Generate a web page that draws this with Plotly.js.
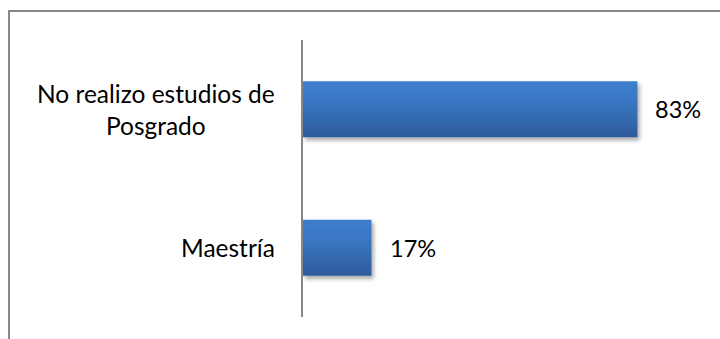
<!DOCTYPE html>
<html>
<head>
<meta charset="utf-8">
<script src="https://cdn.plot.ly/plotly-3.0.1.min.js"></script>
<style>
  html, body { margin: 0; padding: 0; background: #fff; }
  #wrap { position: relative; width: 720px; height: 339px; overflow: hidden; }
  #chart { position: absolute; left: 0; top: 0; width: 720px; height: 339px; }
  #frame { position: absolute; left: 8px; top: 10px; width: 800px; height: 400px;
           border-top: 2px solid #878787; border-left: 2px solid #878787; pointer-events: none; }
</style>
</head>
<body>
<div id="wrap">
  <div id="chart"></div>
  <div id="frame"></div>
</div>
<script>
// Data
const categories = ["No realizo estudios de Posgrado", "Maestría"];
const categoryLabels = ["No realizo estudios de<br>Posgrado", "Maestría"];
const values = [83, 17];
const valueLabels = ["83%", "17%"];

const FONT = "Lato, 'Noto Sans', sans-serif";
const FS_CAT = 24.5;
const FS_VAL = 23.5;

const trace = {
  type: "bar",
  orientation: "h",
  x: values,
  y: categories,
  marker: { color: "#3770bd", line: { width: 0 } },
  hoverinfo: "none"
};

const annotations = [];
categories.forEach((c, i) => {
  annotations.push({
    xref: "paper", yref: "y", x: 0, y: c,
    xanchor: "right", yanchor: "middle", xshift: -26,
    text: categoryLabels[i], showarrow: false, align: "center",
    font: { family: FONT, size: FS_CAT, color: "#000" }
  });
  annotations.push({
    xref: "x", yref: "y", x: values[i], y: c,
    xanchor: "left", yanchor: "middle", xshift: 16,
    text: valueLabels[i], showarrow: false,
    font: { family: FONT, size: FS_VAL, color: "#000" }
  });
});

const layout = {
  width: 720, height: 339,
  margin: { l: 303, r: 14, t: 40, b: 22, pad: 0 },
  paper_bgcolor: "#fff", plot_bgcolor: "#fff",
  showlegend: false,
  bargap: 0.596,
  xaxis: { range: [0, 100], visible: false, fixedrange: true },
  yaxis: {
    autorange: "reversed", showticklabels: false, showgrid: false, zeroline: false,
    showline: true, linecolor: "#878787", linewidth: 2, ticks: "", fixedrange: true
  },
  annotations: annotations,
  font: { family: FONT }
};

Plotly.newPlot("chart", [trace], layout, { displayModeBar: false, staticPlot: true }).then(gd => {
  const svg = gd.querySelector("svg.main-svg");
  const ns = "http://www.w3.org/2000/svg";
  let defs = svg.querySelector("defs");
  if (!defs) { defs = document.createElementNS(ns, "defs"); svg.insertBefore(defs, svg.firstChild); }
  const grad = document.createElementNS(ns, "linearGradient");
  grad.setAttribute("id", "barGrad");
  grad.setAttribute("x1", "0"); grad.setAttribute("y1", "0");
  grad.setAttribute("x2", "0"); grad.setAttribute("y2", "1");
  [["0", "#3d7dcb"], ["0.35", "#3a77c4"], ["1", "#2d5b9b"]].forEach(([o, c]) => {
    const s = document.createElementNS(ns, "stop");
    s.setAttribute("offset", o); s.setAttribute("stop-color", c);
    grad.appendChild(s);
  });
  defs.appendChild(grad);
  const filt = document.createElementNS(ns, "filter");
  filt.setAttribute("id", "barShadow");
  filt.setAttribute("x", "-10%"); filt.setAttribute("y", "-20%");
  filt.setAttribute("width", "130%"); filt.setAttribute("height", "160%");
  const ds = document.createElementNS(ns, "feDropShadow");
  ds.setAttribute("dx", "2"); ds.setAttribute("dy", "3");
  ds.setAttribute("stdDeviation", "2.2");
  ds.setAttribute("flood-color", "#000"); ds.setAttribute("flood-opacity", "0.35");
  filt.appendChild(ds);
  defs.appendChild(filt);
  gd.querySelectorAll(".barlayer .point path").forEach(p => {
    p.style.fill = "url(#barGrad)";
    p.setAttribute("filter", "url(#barShadow)");
  });
});
</script>
</body>
</html>
